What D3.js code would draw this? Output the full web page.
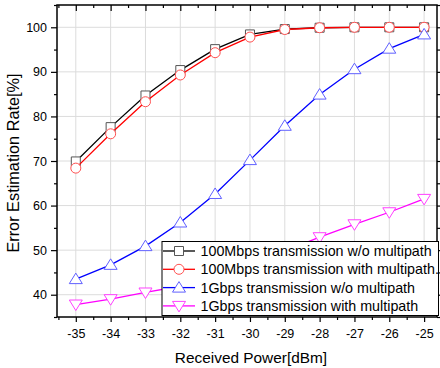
<!DOCTYPE html>
<html>
  <head>
    <meta charset="UTF-8" />
    <title>Error Estimation Rate</title>
    <style>
      body { margin: 0; background: #fff; }
      svg { display: block; font-family: "Liberation Sans", Arial, sans-serif; }
    </style>
  </head>
  <body>
    <svg></svg>
    <script src="https://d3js.org/d3.v7.min.js"></script>
    <script>
      // data
      let power = [-35, -34, -33, -32, -31, -30, -29, -28, -27, -26, -25];
      let noMulti100M = [69.9, 77.6, 84.7, 90.4, 95.1, 98.4, 99.6, 99.9, 100, 100, 100];
      let withMulti100M = [68.4, 76.1, 83.3, 89.3, 94.3, 97.8, 99.5, 99.9, 100, 100, 100];
      let noMulti1G = [43.5, 46.7, 50.9, 56.2, 62.6, 70.2, 77.9, 84.9, 90.6, 95.2, 98.4];
      let withMulti1G = [37.8, 39.0, 40.5, 41.9, 44.2, 46.9, 49.8, 52.9, 55.8, 58.5, 61.5];
      let yTicks = [40, 50, 60, 70, 80, 90, 100];

      let series = [
        { name: "100Mbps transmission w/o multipath", values: noMulti100M, color: "#000000", mark: "square", stroke: "#555" },
        { name: "100Mbps transmission with multipath.", values: withMulti100M, color: "#ff0000", mark: "circle", stroke: "#ff5050" },
        { name: "1Gbps transmission w/o multipath", values: noMulti1G, color: "#0000ff", mark: "up", stroke: "#6060ff" },
        { name: "1Gbps transmission with multipath", values: withMulti1G, color: "#ff00ff", mark: "down", stroke: "#ff40ff" },
      ];

      let width = 440, height = 368;
      let svg = d3.select("svg").attr("width", width).attr("height", height);

      let pLeft = 57, pRight = 437, pTop = 5, pBottom = 317;
      let x = d3.scaleLinear().domain([-35.54, -24.63]).range([pLeft, pRight]);
      let y = d3.scaleLinear().domain([35, 105]).range([pBottom, pTop]);

      // grid
      let grid = svg.append("g").attr("stroke", "#dcdcdc").attr("stroke-width", 1);
      grid.selectAll(".gx").data(power).enter().append("line")
        .attr("x1", (d) => x(d)).attr("x2", (d) => x(d))
        .attr("y1", pTop).attr("y2", pBottom);
      grid.selectAll(".gy").data(yTicks).enter().append("line")
        .attr("x1", pLeft).attr("x2", pRight)
        .attr("y1", (d) => y(d)).attr("y2", (d) => y(d));

      // axes
      let xMinor = d3.range(-35.5, -24.6, 0.5).filter((d) => d % 1 != 0);
      let yMinor = d3.range(35, 106, 10);

      svg.append("g").attr("transform", "translate(0," + pBottom + ")")
        .call(d3.axisBottom(x).tickValues(power).tickFormat((d) => String(d)).tickSize(5).tickSizeOuter(0).tickPadding(7))
        .call((g) => g.select(".domain").remove());
      svg.append("g").attr("transform", "translate(0," + pBottom + ")")
        .call(d3.axisBottom(x).tickValues(xMinor).tickFormat("").tickSize(3).tickSizeOuter(0))
        .call((g) => g.select(".domain").remove());
      svg.append("g").attr("transform", "translate(0," + pTop + ")")
        .call(d3.axisBottom(x).tickValues(power).tickFormat("").tickSize(6).tickSizeOuter(0))
        .call((g) => g.select(".domain").remove());
      svg.append("g").attr("transform", "translate(0," + pTop + ")")
        .call(d3.axisBottom(x).tickValues(xMinor).tickFormat("").tickSize(3).tickSizeOuter(0))
        .call((g) => g.select(".domain").remove());

      svg.append("g").attr("transform", "translate(" + pLeft + ",0)")
        .call(d3.axisLeft(y).tickValues(yTicks).tickSize(6).tickSizeOuter(0).tickPadding(4))
        .call((g) => g.select(".domain").remove());
      svg.append("g").attr("transform", "translate(" + pLeft + ",0)")
        .call(d3.axisLeft(y).tickValues(yMinor).tickFormat("").tickSize(3).tickSizeOuter(0))
        .call((g) => g.select(".domain").remove());
      svg.append("g").attr("transform", "translate(" + pRight + ",0)")
        .call(d3.axisRight(y).tickValues(yTicks).tickFormat("").tickSize(5).tickSizeOuter(0))
        .call((g) => g.select(".domain").remove());
      svg.append("g").attr("transform", "translate(" + pRight + ",0)")
        .call(d3.axisRight(y).tickValues(yMinor).tickFormat("").tickSize(3).tickSizeOuter(0))
        .call((g) => g.select(".domain").remove());

      svg.selectAll(".tick text").attr("font-size", 12.5).attr("fill", "#000")
        .attr("font-family", "Liberation Sans, Arial, sans-serif");
      svg.selectAll(".tick line").attr("stroke", "#000").attr("stroke-width", 1.2);

      // frame
      svg.append("rect")
        .attr("x", pLeft).attr("y", pTop)
        .attr("width", pRight - pLeft).attr("height", pBottom - pTop)
        .attr("fill", "none").attr("stroke", "#000").attr("stroke-width", 1.5);

      // markers
      function markerPath(type, cx, cy) {
        if (type == "square") {
          return "M" + (cx - 4.5) + "," + (cy - 4.5) + "h9v9h-9z";
        } else if (type == "up") {
          return "M" + cx + "," + (cy - 6) + "L" + (cx + 6.5) + "," + (cy + 4.5) + "L" + (cx - 6.5) + "," + (cy + 4.5) + "Z";
        } else if (type == "down") {
          return "M" + cx + "," + (cy + 6) + "L" + (cx + 6.5) + "," + (cy - 4.5) + "L" + (cx - 6.5) + "," + (cy - 4.5) + "Z";
        }
        return "";
      }

      function drawMark(g, s, cx, cy) {
        if (s.mark == "circle") {
          g.append("circle").attr("cx", cx).attr("cy", cy).attr("r", 5)
            .attr("fill", "#fff").attr("stroke", s.stroke).attr("stroke-width", 1);
        } else {
          g.append("path").attr("d", markerPath(s.mark, cx, cy))
            .attr("fill", "#fff").attr("stroke", s.stroke).attr("stroke-width", 1);
        }
      }

      let line = d3.line().x((d, i) => x(power[i])).y((d) => y(d));

      let plot = svg.append("g");
      series.forEach((s) => {
        let g = plot.append("g");
        g.append("path").datum(s.values)
          .attr("d", line)
          .attr("fill", "none").attr("stroke", s.color).attr("stroke-width", 1.3);
        s.values.forEach((v, i) => drawMark(g, s, x(power[i]), y(v)));
      });

      // legend
      let legend = svg.append("g");
      legend.append("rect")
        .attr("x", 162).attr("y", 241.5).attr("width", 276.5).attr("height", 74)
        .attr("fill", "#fff").attr("stroke", "#000").attr("stroke-width", 1);
      series.forEach((s, i) => {
        let cy = 251 + i * 18.3;
        legend.append("line").attr("x1", 163).attr("x2", 195).attr("y1", cy).attr("y2", cy)
          .attr("stroke", s.color).attr("stroke-width", 1.3);
        drawMark(legend, s, 179, cy);
        legend.append("text").attr("x", 200.5).attr("y", cy + 5)
          .attr("font-size", 14.3).attr("fill", "#000").text(s.name);
      });

      // axis titles
      svg.append("text")
        .attr("x", 251).attr("y", 362.5)
        .attr("text-anchor", "middle").attr("font-size", 15.4)
        .text("Received Power[dBm]");
      svg.append("text")
        .attr("transform", "translate(19,163) rotate(-90)")
        .attr("text-anchor", "middle").attr("font-size", 16.3)
        .text("Error Estimation Rate[%]");
    </script>
  </body>
</html>
